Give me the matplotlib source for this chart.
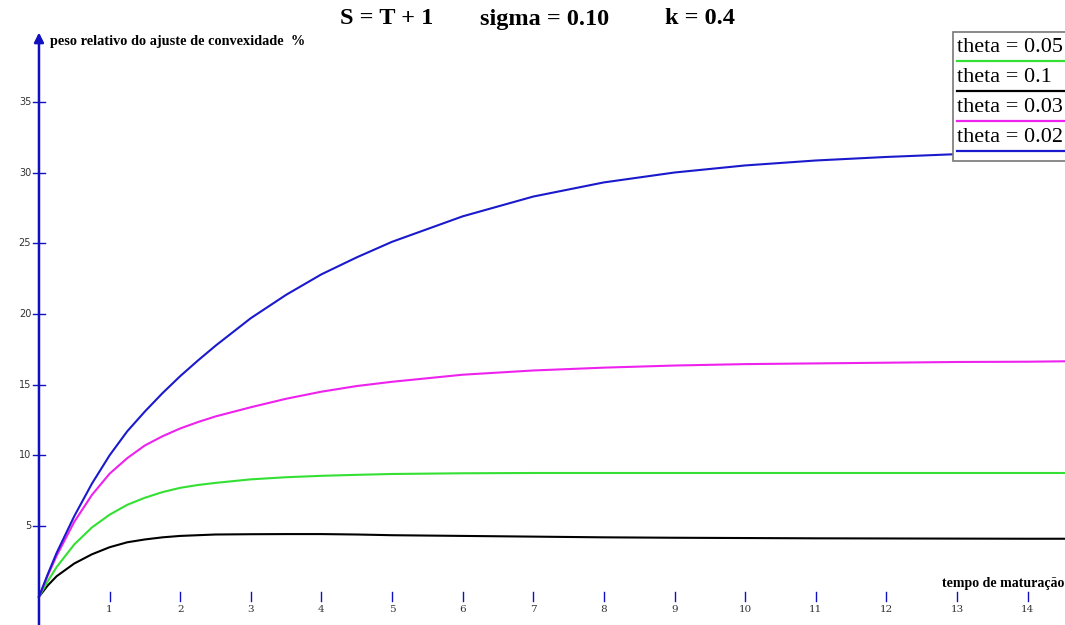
import matplotlib
matplotlib.use("Agg")
import matplotlib.pyplot as plt
import matplotlib.patheffects as pe
from matplotlib.patches import Rectangle
from matplotlib.font_manager import FontProperties, findfont

# --- Data ---
t = [0, 0.125, 0.25, 0.5, 0.75, 1, 1.25, 1.5, 1.75, 2, 2.25, 2.5, 3, 3.5, 4, 4.5, 5,
     6, 7, 8, 9, 10, 11, 12, 13, 14, 14.55]
w_002 = [0, 1.6, 3.1, 5.7, 8.0, 10.0, 11.7, 13.1, 14.4, 15.6, 16.7, 17.75, 19.7, 21.35,
         22.8, 24.0, 25.1, 26.9, 28.3, 29.3, 30.0, 30.5, 30.85, 31.1, 31.3, 31.45, 31.5]
w_003 = [0, 1.5, 2.9, 5.3, 7.2, 8.7, 9.8, 10.7, 11.35, 11.9, 12.35, 12.75, 13.4, 14.0,
         14.5, 14.9, 15.2, 15.7, 16.0, 16.2, 16.35, 16.45, 16.5, 16.55, 16.6, 16.62, 16.65]
w_005 = [0, 1.1, 2.1, 3.7, 4.9, 5.8, 6.5, 7.0, 7.4, 7.7, 7.9, 8.05, 8.3, 8.45,
         8.55, 8.62, 8.68, 8.73, 8.75, 8.75, 8.75, 8.75, 8.75, 8.75, 8.75, 8.75, 8.75]
w_010 = [0, 0.8, 1.45, 2.35, 3.0, 3.5, 3.85, 4.05, 4.2, 4.3, 4.35, 4.4, 4.42, 4.43,
         4.43, 4.4, 4.35, 4.3, 4.25, 4.2, 4.17, 4.15, 4.13, 4.12, 4.11, 4.1, 4.1]

x_ticks = list(range(1, 15))
y_ticks = [5, 10, 15, 20, 25, 30, 35]

legend_labels = ["theta = 0.05", "theta = 0.1", "theta = 0.03", "theta = 0.02"]
legend_colors = ["#33e033", "#000000", "#ee22ee", "#1a1acc"]

AXIS = "#1010c0"
W, H = 1065, 625

# bold serif; fake it with a stroke if no bold face is found
SERIF = "Liberation Serif"
has_bold = "Bold" in findfont(FontProperties(family=SERIF, weight="bold"))
bold_kw = dict(family=SERIF, fontweight="bold")
if not has_bold:
    bold_kw["path_effects"] = [pe.withStroke(linewidth=0.9, foreground="black")]

def px(X, Y):
    # figure pixel -> figure fraction
    return X / W, 1 - Y / H

fig = plt.figure(figsize=(10.65, 6.25), dpi=100)
ax = fig.add_axes([0, 0, 1, 1])
ax.set_xlim(-0.552, 14.53)
ax.set_ylim(-2.0, 42.2)
ax.axis("off")

# curves
ax.plot(t, w_010, color="#000000", lw=1.5)
ax.plot(t, w_005, color="#33e033", lw=1.5)
ax.plot(t, w_003, color="#ee22ee", lw=1.5)
ax.plot(t, w_002, color="#1a1acc", lw=1.5)

# axes with arrows
ax.annotate("", xy=(14.55, 0), xytext=(-0.44, 0),
            arrowprops=dict(arrowstyle="-|>", color=AXIS, lw=1.8, mutation_scale=14,
                            shrinkA=0, shrinkB=0))
ax.annotate("", xy=(0, 39.9), xytext=(0, -2.1),
            arrowprops=dict(arrowstyle="-|>", color=AXIS, lw=1.8, mutation_scale=14,
                            shrinkA=0, shrinkB=0))

# ticks
for xt in x_ticks:
    ax.plot([xt, xt], [-0.33, 0.33], color=AXIS, lw=1.0)
    ax.text(xt, -0.6, str(xt), ha="center", va="top", fontsize=7.5,
            family="DejaVu Serif", color="#333333")
for yt in y_ticks:
    ax.plot([-0.08, 0.08], [yt, yt], color=AXIS, lw=1.0)
    ax.text(-0.11, yt, str(yt), ha="right", va="center", fontsize=7,
            family="DejaVu Sans", color="#333333")

# axis labels
ax.text(*px(50, 42), "peso relativo do ajuste de convexidade  %", transform=fig.transFigure,
        ha="left", va="center", fontsize=10.3, **bold_kw)
ax.text(*px(942, 583), "tempo de maturação", transform=fig.transFigure,
        ha="left", va="center", fontsize=10, **bold_kw)

# title pieces
for X, s in [(340, "S = T + 1"), (480, "sigma = 0.10"), (665, "k = 0.4")]:
    ax.text(*px(X, 19), s, transform=fig.transFigure, ha="left", va="center",
            fontsize=17.5, **bold_kw)

# legend box
x0, y0 = px(953, 161)
x1, y1 = px(1066, 32)
fig.patches.append(Rectangle((x0, y0), x1 - x0, y1 - y0, transform=fig.transFigure,
                             facecolor="white", edgecolor="#777777", lw=1.2, zorder=5))
for i, (lab, col) in enumerate(zip(legend_labels, legend_colors)):
    yc = 47 + i * 30.3
    fig.text(*px(957, yc), lab, ha="left", va="center", fontsize=16,
             family=SERIF, zorder=6)
    xa, ya = px(957, yc + 13.5)
    xb, _ = px(1065, yc + 13.5)
    fig.add_artist(plt.Line2D([xa, xb], [ya, ya], transform=fig.transFigure,
                              color=col, lw=1.6, zorder=6))

fig.savefig("out.png", dpi=100)
